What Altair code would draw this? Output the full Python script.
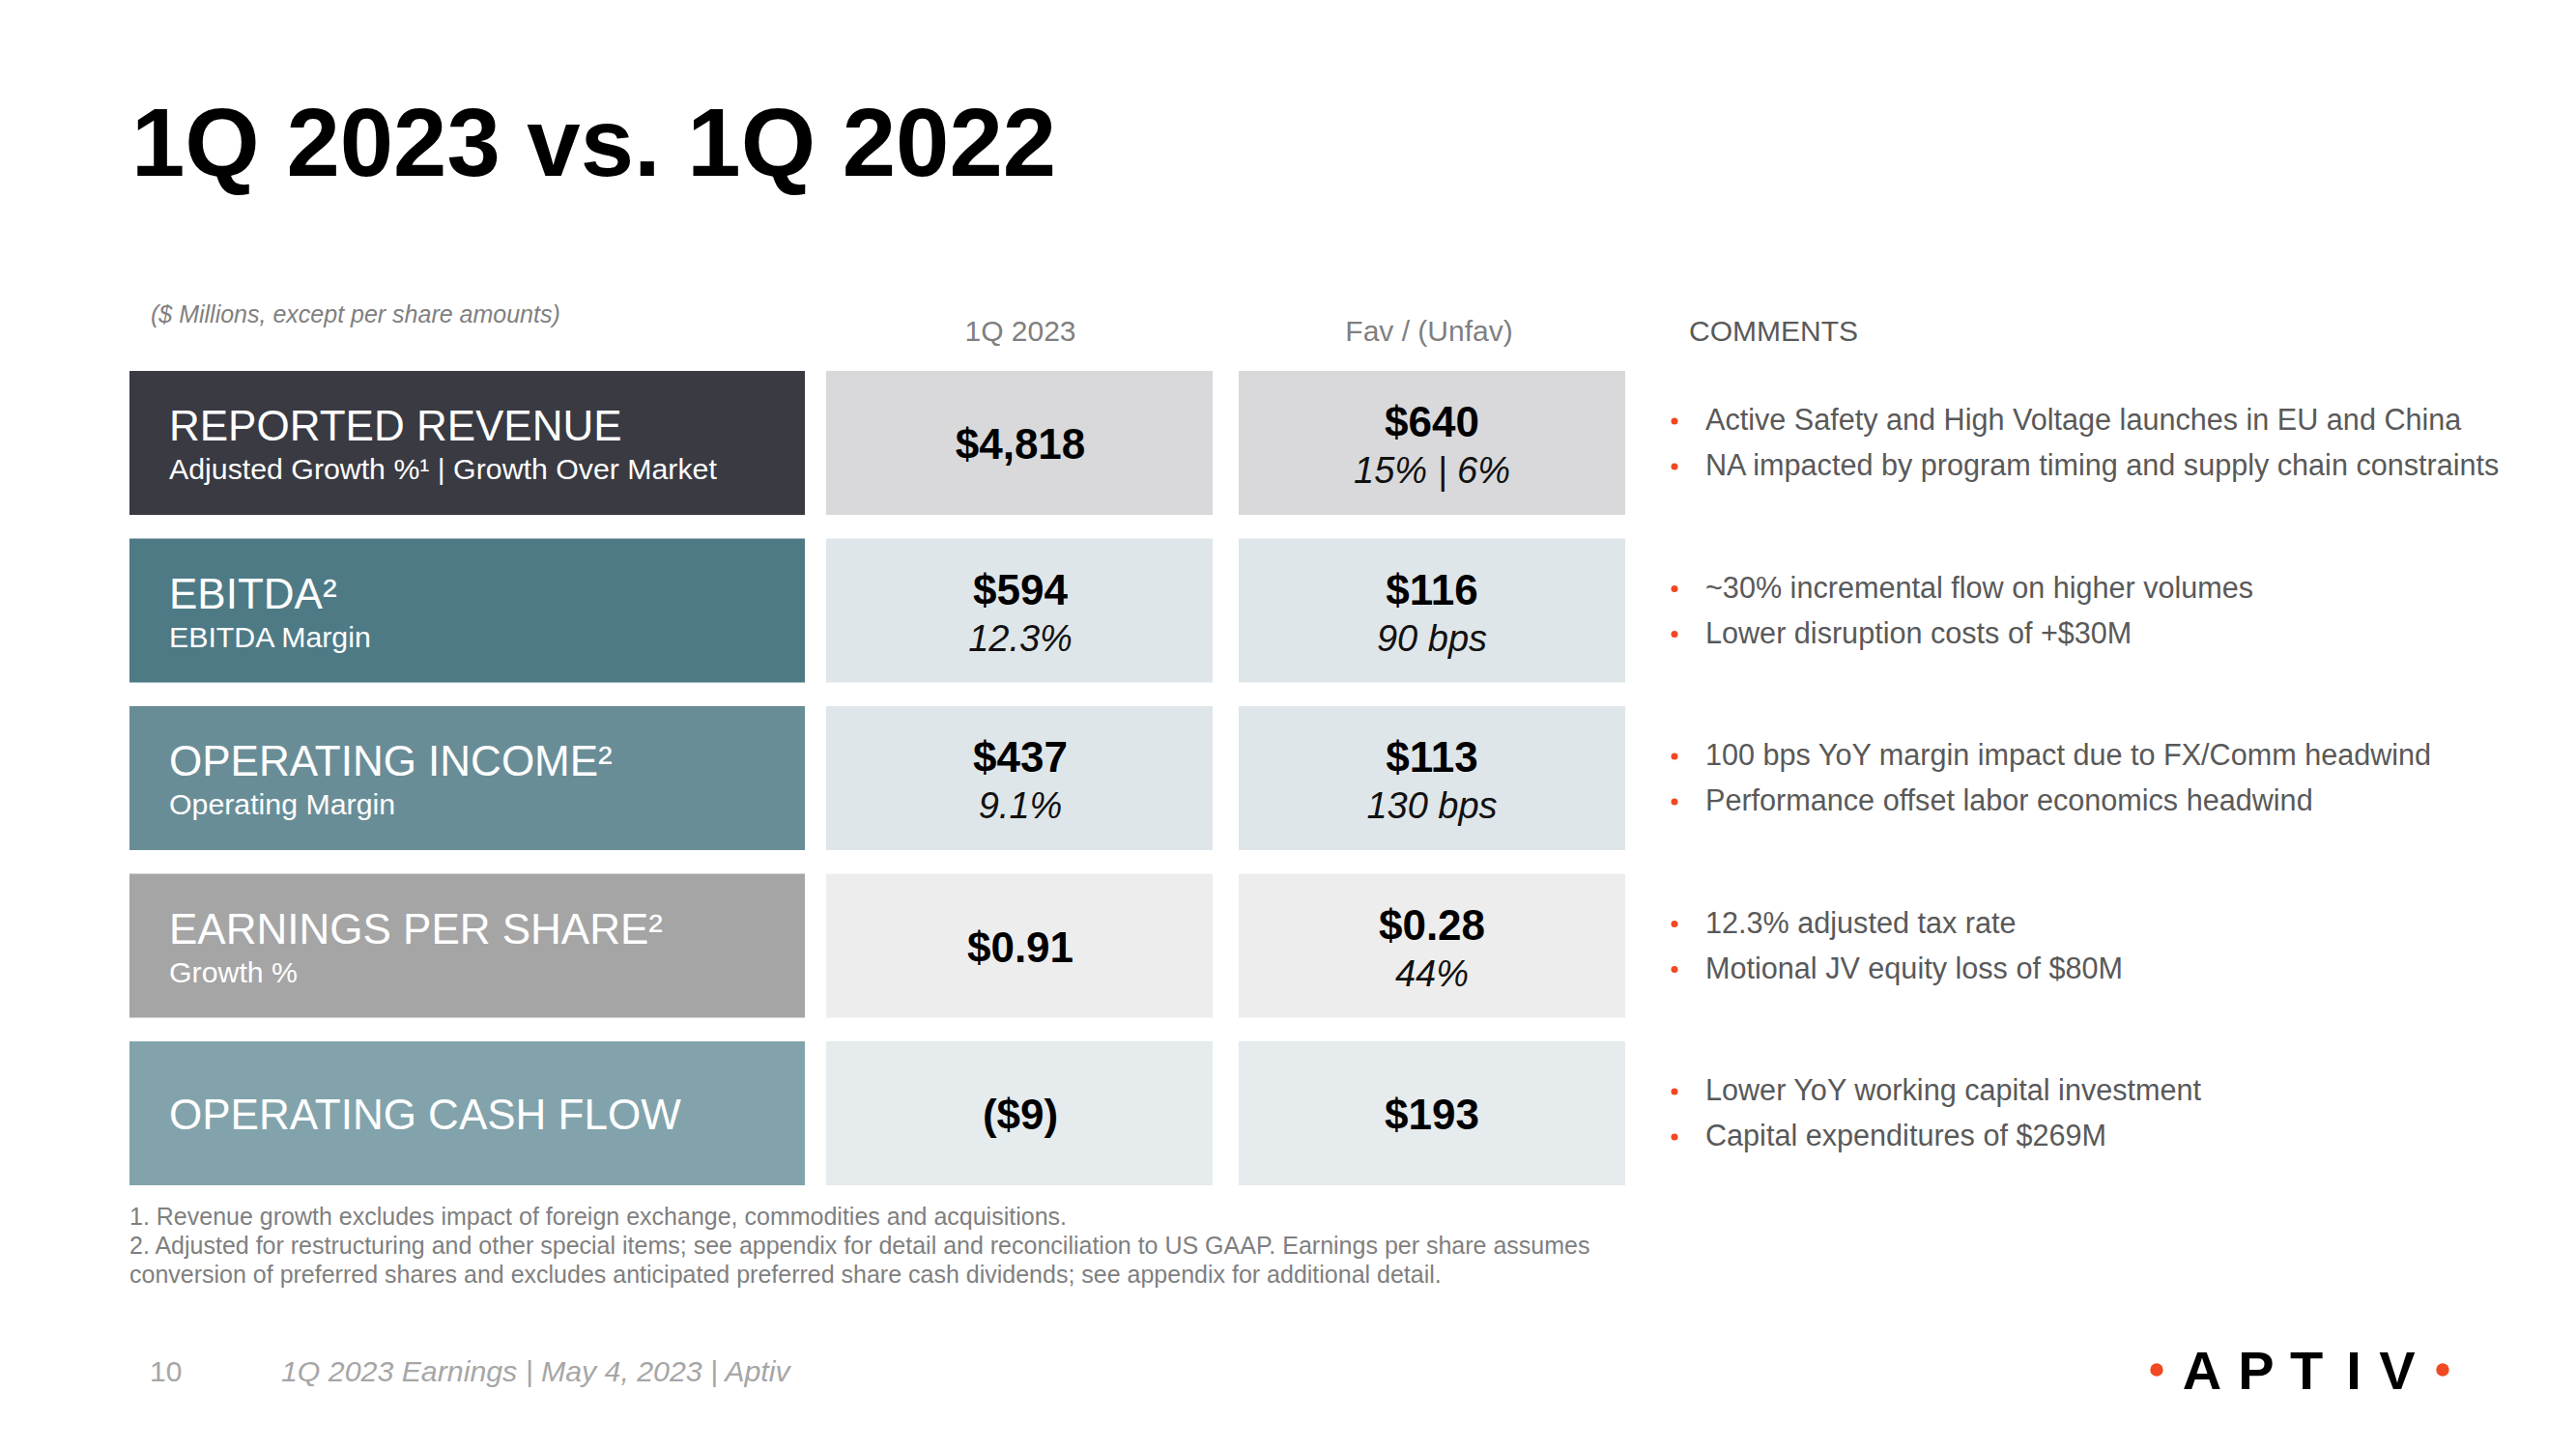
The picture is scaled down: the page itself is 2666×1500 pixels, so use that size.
import altair as alt
import pandas as pd

# ---------------- data ----------------
title = "1Q 2023 vs. 1Q 2022"
units_note = "($ Millions, except per share amounts)"
col_headers = ["1Q 2023", "Fav / (Unfav)"]
comments_header = "COMMENTS"

metrics = ["REPORTED REVENUE", "EBITDA²", "OPERATING INCOME²", "EARNINGS PER SHARE²", "OPERATING CASH FLOW"]
metric_subs = ["Adjusted Growth %¹ | Growth Over Market", "EBITDA Margin", "Operating Margin", "Growth %", ""]
q1_2023 = ["$4,818", "$594", "$437", "$0.91", "($9)"]
q1_2023_sub = ["", "12.3%", "9.1%", "", ""]
fav_unfav = ["$640", "$116", "$113", "$0.28", "$193"]
fav_unfav_sub = ["15% | 6%", "90 bps", "130 bps", "44%", ""]
comments = [
    ["Active Safety and High Voltage launches in EU and China",
     "NA impacted by program timing and supply chain constraints"],
    ["~30% incremental flow on higher volumes", "Lower disruption costs of +$30M"],
    ["100 bps YoY margin impact due to FX/Comm headwind", "Performance offset labor economics headwind"],
    ["12.3% adjusted tax rate", "Motional JV equity loss of $80M"],
    ["Lower YoY working capital investment", "Capital expenditures of $269M"],
]
footnotes = [
    "1. Revenue growth excludes impact of foreign exchange, commodities and acquisitions.",
    "2. Adjusted for restructuring and other special items; see appendix for detail and reconciliation to US GAAP. Earnings per share assumes",
    "conversion of preferred shares and excludes anticipated preferred share cash dividends; see appendix for additional detail.",
]
footer_page = "10"
footer_text = "1Q 2023 Earnings | May 4, 2023 | Aptiv"
logo_letters = ["A", "P", "T", "I", "V"]

label_colors = ["#393a42", "#4e7a86", "#698d97", "#a5a5a5", "#82a3ab"]
cell_colors = ["#d9d9db", "#dfe6e9", "#dfe6e9", "#ededed", "#e6ebed"]

# ---------------- layout (page pixels) ----------------
FONT = "Liberation Sans"
W, H = 2640, 1470
xs = alt.Scale(domain=[8, 8 + W], nice=False, zero=False)
ys = alt.Scale(domain=[8, 8 + H], nice=False, zero=False, reverse=True)
X = alt.X("x:Q", scale=xs, axis=None)
Y = alt.Y("y:Q", scale=ys, axis=None)

row_top0, row_pitch, row_h = 384, 173.5, 149
col_spans = [(134, 833), (855, 1255), (1282, 1682)]
GREY = "#7f7f7f"
DARK = "#595959"
ORANGE = "#f04923"

rects = []
for i in range(len(metrics)):
    top = row_top0 + i * row_pitch
    for j, (a, b) in enumerate(col_spans):
        rects.append({"x": a, "x2": b, "y": top, "y2": top + row_h,
                      "c": label_colors[i] if j == 0 else cell_colors[i]})
rect_layer = alt.Chart(pd.DataFrame(rects)).mark_rect().encode(
    x=X, x2="x2:Q", y=Y, y2="y2:Q", color=alt.Color("c:N", scale=None))


def tl(rows, size, color, weight="normal", style="normal", align="left", baseline="middle"):
    rows = [r for r in rows if r["t"]]
    return alt.Chart(pd.DataFrame(rows)).mark_text(
        font=FONT, fontSize=size, color=color, fontWeight=weight, fontStyle=style,
        align=align, baseline=baseline).encode(x=X, y=Y, text="t:N")


lab_main, lab_sub, v_main, v_sub, com_rows, bullets = [], [], [], [], [], []
for i in range(len(metrics)):
    top = row_top0 + i * row_pitch
    has_sub = bool(metric_subs[i])
    lab_main.append({"x": 175, "y": top + (59 if has_sub else 78), "t": metrics[i]})
    lab_sub.append({"x": 175, "y": top + 103, "t": metric_subs[i]})
    for cx, mains, subs in [(1056, q1_2023, q1_2023_sub), (1482, fav_unfav, fav_unfav_sub)]:
        s = bool(subs[i])
        v_main.append({"x": cx, "y": top + (55 if s else 78), "t": mains[i]})
        v_sub.append({"x": cx, "y": top + 105, "t": subs[i]})
    for k, c in enumerate(comments[i]):
        yy = top + 52 + k * 47
        com_rows.append({"x": 1765, "y": yy, "t": c})
        bullets.append({"x": 1733, "y": yy})

layers = [rect_layer]
layers.append(tl([{"x": 136, "y": 182, "t": title}], 99.5, "#000000", weight="bold", baseline="alphabetic"))
layers.append(tl([{"x": 156, "y": 326, "t": units_note}], 25, GREY, style="italic"))
layers.append(tl([{"x": 1056, "y": 344, "t": col_headers[0]}, {"x": 1479, "y": 344, "t": col_headers[1]}],
                 30, GREY, align="center"))
layers.append(tl([{"x": 1748, "y": 344, "t": comments_header}], 30, DARK))
layers.append(tl(lab_main, 44, "#ffffff"))
layers.append(tl(lab_sub, 30.3, "#ffffff"))
layers.append(tl(v_main, 44, "#000000", weight="bold", align="center"))
layers.append(tl(v_sub, 38, "#111111", style="italic", align="center"))
layers.append(tl(com_rows, 30.6, DARK))
layers.append(alt.Chart(pd.DataFrame(bullets)).mark_point(
    shape="circle", filled=True, size=50, color=ORANGE, opacity=1).encode(x=X, y=Y))
layers.append(tl([{"x": 134, "y": 1260 + k * 29.8, "t": f} for k, f in enumerate(footnotes)], 25, GREY))
layers.append(tl([{"x": 155, "y": 1421, "t": footer_page}], 30, "#a6a6a6"))
layers.append(tl([{"x": 291, "y": 1421, "t": footer_text}], 30.3, "#a6a6a6", style="italic"))
logo_x = [2279, 2335, 2387, 2436, 2481]
layers.append(tl([{"x": logo_x[k], "y": 1438, "t": l} for k, l in enumerate(logo_letters)],
                 56, "#000000", weight="bold", align="center", baseline="alphabetic"))
layers.append(alt.Chart(pd.DataFrame([{"x": 2232, "y": 1418}, {"x": 2528, "y": 1418}])).mark_point(
    shape="circle", filled=True, size=180, color=ORANGE, opacity=1).encode(x=X, y=Y))

chart = alt.layer(*layers).properties(width=W, height=H, padding=0, background="#ffffff") \
    .configure_view(stroke=None)

chart.save("out.html", embed_options={"renderer": "svg", "actions": False})
